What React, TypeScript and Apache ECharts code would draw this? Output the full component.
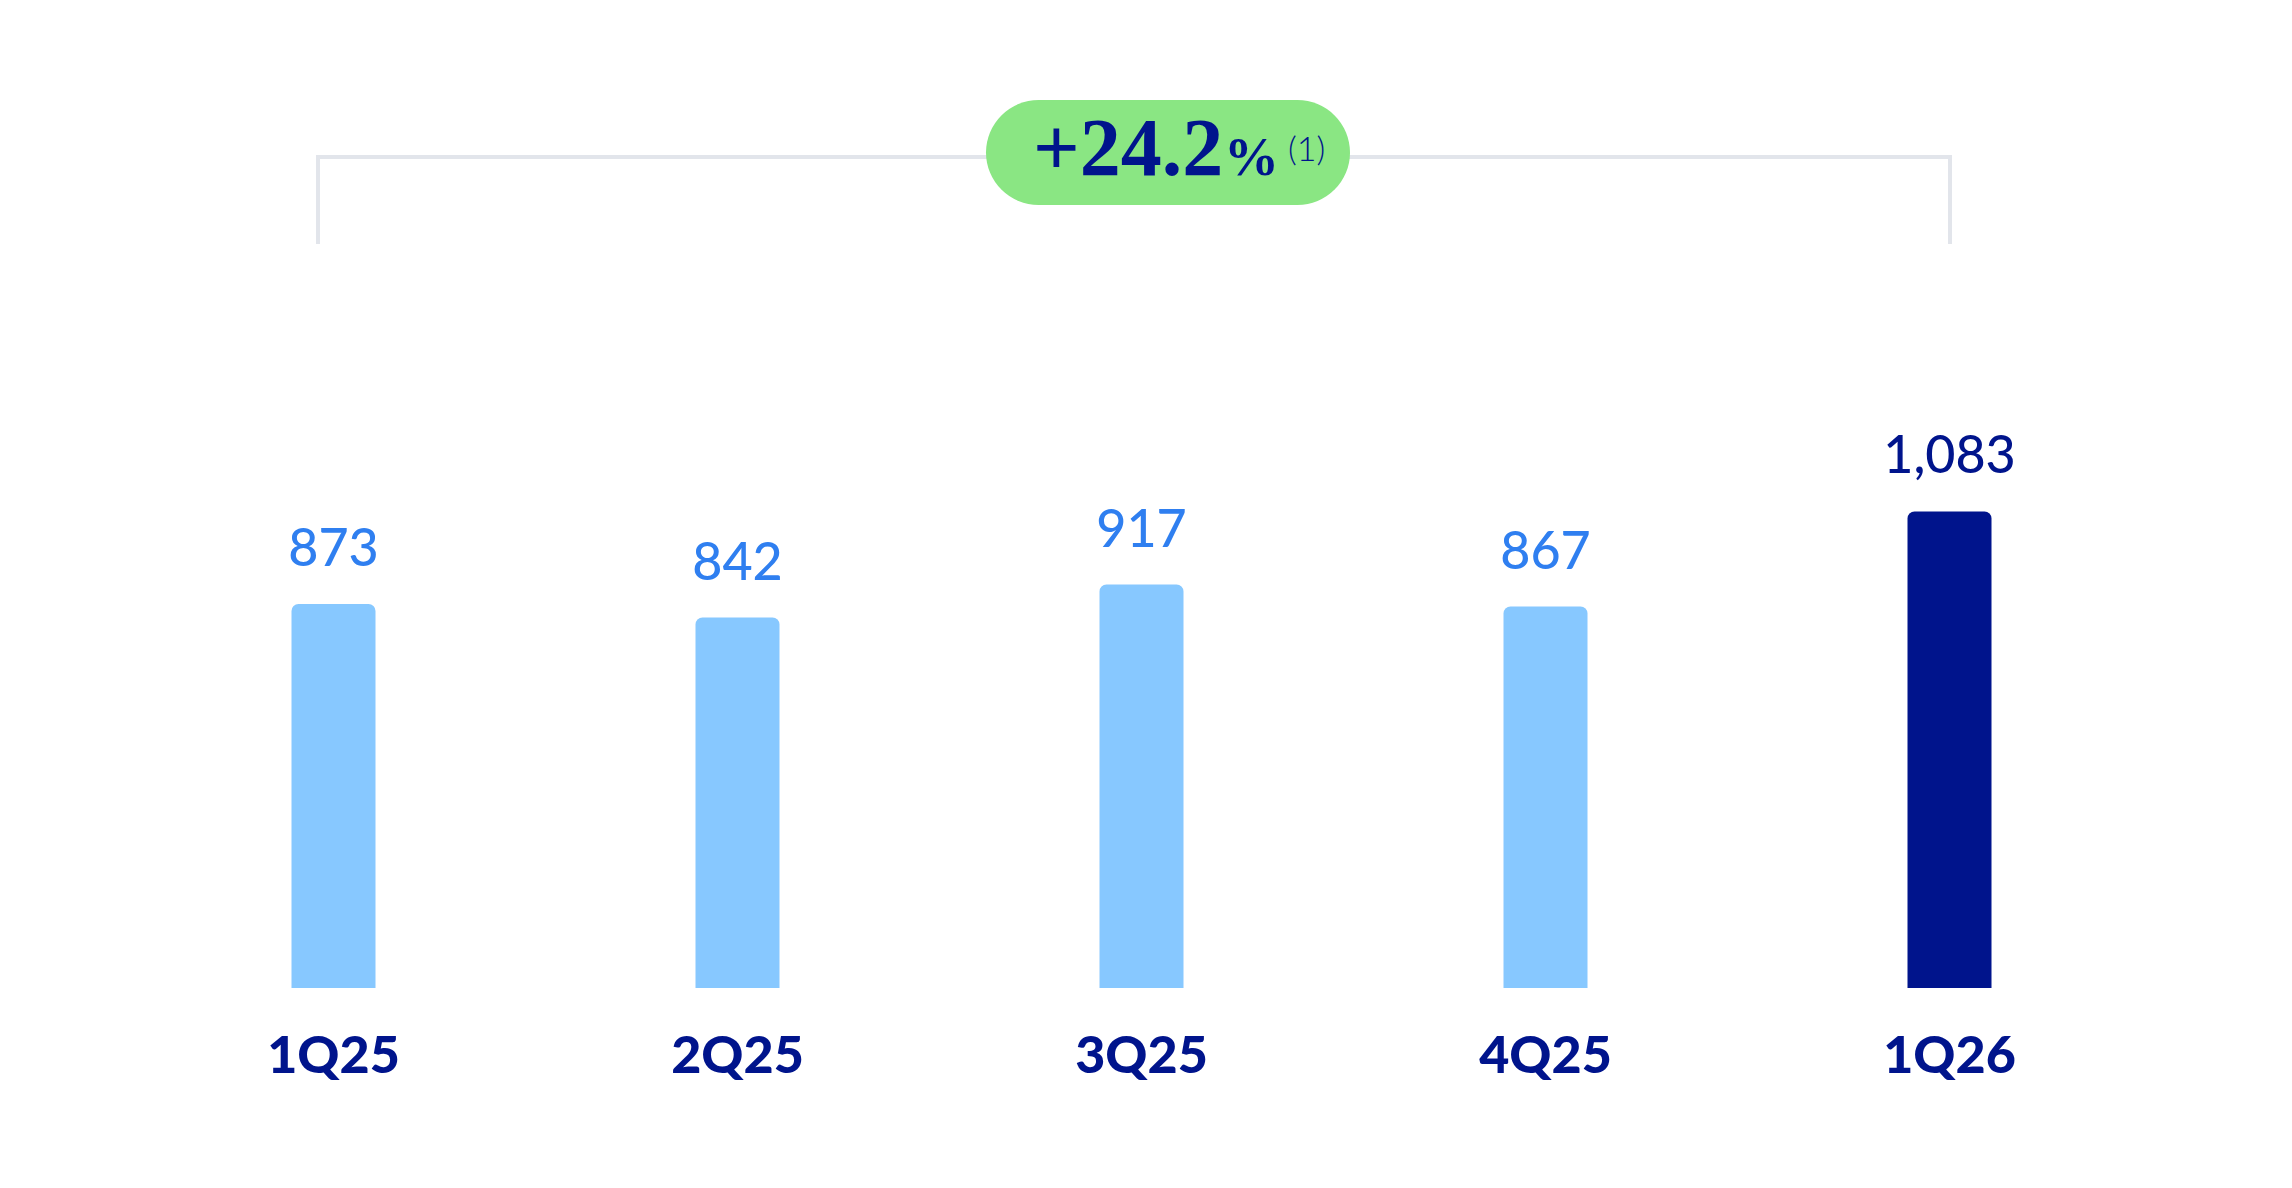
import React, { useEffect, useRef } from 'react';
import * as echarts from 'echarts';

const categories = ['1Q25', '2Q25', '3Q25', '4Q25', '1Q26'];
const values = [873, 842, 917, 867, 1083];
const valueLabels = ['873', '842', '917', '867', '1,083'];
const highlightIndex = 4;
const growthText = '+24.2';
const growthNote = '(1)';

const NAVY = '#00148C';
const LIGHT_BAR = '#87C8FF';
const LIGHT_LABEL = '#2F7FF0';
const GREEN = '#8AE683';
const BRACKET = '#E2E5EB';
const SANS = 'Lato, "Noto Sans", sans-serif';
const SERIF = '"Liberation Serif", "DejaVu Serif", serif';

const App: React.FC = () => {
  const chartRef = useRef<HTMLDivElement>(null);

  useEffect(() => {
    if (!chartRef.current) return;
    const chart = echarts.init(chartRef.current, undefined, { renderer: 'svg' });

    const data = values.map((v, i) => {
      const hi = i === highlightIndex;
      return {
        value: v,
        itemStyle: { color: hi ? NAVY : LIGHT_BAR },
        label: { color: hi ? NAVY : LIGHT_LABEL }
      };
    });

    const option = {
      animation: false,
      backgroundColor: '#ffffff',
      grid: { left: 131.5, right: 140.5, top: 328, bottom: 200 },
      xAxis: {
        type: 'category',
        data: categories,
        axisLine: { show: false },
        axisTick: { show: false },
        axisLabel: {
          color: NAVY,
          fontFamily: SANS,
          fontWeight: 900,
          fontSize: 52,
          lineHeight: 52,
          margin: 39
        }
      },
      yAxis: {
        type: 'value',
        min: 0,
        max: 1500,
        show: false,
        splitLine: { show: false }
      },
      graphic: [
        {
          type: 'polyline',
          shape: { points: [[318, 244], [318, 157], [1950, 157], [1950, 244]] },
          style: { stroke: BRACKET, lineWidth: 4, fill: 'none' },
          z: 1
        },
        {
          type: 'rect',
          shape: { x: 986, y: 100, width: 364, height: 105, r: 52.5 },
          style: { fill: GREEN },
          z: 2
        },
        {
          type: 'text',
          x: 1033,
          y: 147,
          style: {
            text: growthText,
            font: `bold 82px ${SERIF}`,
            fill: NAVY,
            align: 'left',
            verticalAlign: 'middle'
          },
          z: 3
        },
        {
          type: 'text',
          x: 1224,
          y: 156,
          style: {
            text: '%',
            font: `bold 55px ${SERIF}`,
            fill: NAVY,
            align: 'left',
            verticalAlign: 'middle'
          },
          z: 3
        },
        {
          type: 'text',
          x: 1288,
          y: 147,
          style: {
            text: growthNote,
            font: `300 34px ${SANS}`,
            fill: NAVY,
            align: 'left',
            verticalAlign: 'middle'
          },
          z: 3
        }
      ],
      series: [
        {
          type: 'bar',
          data,
          barWidth: 84,
          itemStyle: { borderRadius: [7, 7, 0, 0] },
          label: {
            show: true,
            position: 'top',
            distance: 32,
            fontFamily: SANS,
            fontWeight: 500,
            fontSize: 52,
            lineHeight: 52,
            formatter: (p: any) => valueLabels[p.dataIndex]
          }
        }
      ]
    };

    chart.setOption(option);
    return () => {
      chart.dispose();
    };
  }, []);

  return (
    <div
      ref={chartRef}
      style={{ position: 'fixed', left: 0, top: 0, width: 2292, height: 1188, background: '#fff' }}
    ></div>
  );
};

export default App;
